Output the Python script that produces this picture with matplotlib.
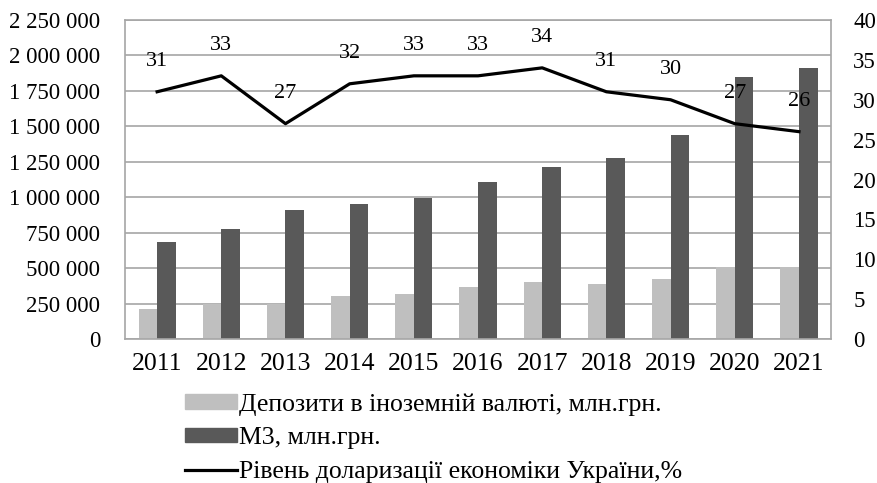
import matplotlib
matplotlib.use("Agg")
import matplotlib.pyplot as plt
from matplotlib.ticker import FuncFormatter, MultipleLocator
from matplotlib.patches import Patch
from matplotlib.lines import Line2D
import numpy as np

years = ["2011", "2012", "2013", "2014", "2015", "2016", "2017", "2018", "2019", "2020", "2021"]
deposits_fx = [210000, 250000, 250000, 305000, 320000, 365000, 405000, 390000, 425000, 505000, 505000]
m3 = [685000, 775000, 910000, 955000, 995000, 1105000, 1210000, 1280000, 1440000, 1850000, 1910000]
dollarization = [31, 33, 27, 32, 33, 33, 34, 31, 30, 27, 26]

labels = ["Депозити в іноземній валюті, млн.грн.", "М3, млн.грн.",
          "Рівень доларизації економіки України,%"]

plt.rcParams['font.family'] = ['Liberation Serif', 'DejaVu Serif']
fs_y = 16.5
fs_x = 18.5
fs_lab = 16
fs_leg = 18.5

fig = plt.figure(figsize=(8.78, 4.83), dpi=100)
ax = fig.add_axes([0.1424, 0.2981, 0.8041, 0.6605])
x = np.arange(len(years))
w = 0.29
light = "#bfbfbf"
dark = "#595959"
ax.bar(x - w / 2, deposits_fx, width=w, color=light, zorder=2)
ax.bar(x + w / 2, m3, width=w, color=dark, zorder=2)
ax.set_xlim(-0.5, len(years) - 0.5)
ax.set_ylim(0, 2250000)
ax.yaxis.set_major_locator(MultipleLocator(250000))
ax.yaxis.set_major_formatter(FuncFormatter(lambda v, p: f"{int(v):,}".replace(",", " ")))
ax.grid(axis='y', color="#a6a6a6", linewidth=1.2, zorder=0)
ax.set_xticks(x)
ax.set_xticklabels(years)
ax.tick_params(axis='y', length=0, labelsize=fs_y, pad=18)
ax.tick_params(axis='x', length=0, labelsize=fs_x, pad=10)
for s in ax.spines.values():
    s.set_color("#a6a6a6")
    s.set_linewidth(1.2)

ax2 = ax.twinx()
ax2.plot(x, dollarization, color="black", linewidth=2.3, zorder=3)
ax2.set_ylim(0, 40)
ax2.yaxis.set_major_locator(MultipleLocator(5))
ax2.tick_params(length=0, labelsize=fs_y, pad=16)
for s in ax2.spines.values():
    s.set_visible(False)
for xi, v in zip(x, dollarization):
    ax2.annotate(str(v), (xi, v), xytext=(0, 15), textcoords="offset points",
                 ha="center", va="bottom", fontsize=fs_lab)

handles = [Patch(color=light), Patch(color=dark), Line2D([0], [0], color="black", linewidth=2.3)]
fig.legend(handles, labels, loc="upper left", bbox_to_anchor=(0.211, 0.186), frameon=False,
           fontsize=fs_leg, handlelength=2.0, handleheight=0.5, handletextpad=0.1,
           labelspacing=0.45, borderpad=0, borderaxespad=0)

fig.savefig("out.png", dpi=100)
